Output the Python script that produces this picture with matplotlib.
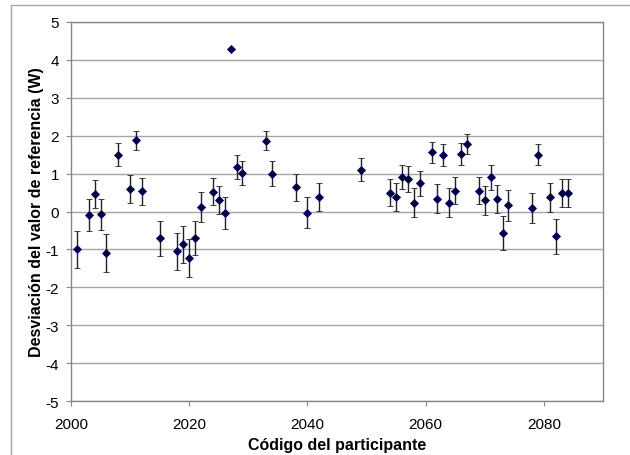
import matplotlib.pyplot as plt
from matplotlib.lines import Line2D

plt.rcParams['font.family'] = ['Liberation Sans', 'DejaVu Sans']
plt.rcParams['axes.unicode_minus'] = False

# participant codes, deviation from reference value (W) and uncertainty
codes = [2001, 2003, 2004, 2005, 2006, 2008, 2010, 2011, 2012, 2015,
         2018, 2019, 2020, 2021, 2022, 2024, 2025, 2026, 2027, 2028,
         2029, 2033, 2034, 2038, 2040, 2042, 2049, 2054, 2055, 2056,
         2057, 2058, 2059, 2061, 2062, 2063, 2064, 2065, 2066, 2067,
         2069, 2070, 2071, 2072, 2073, 2074, 2078, 2079, 2081, 2082,
         2083, 2084]
deviation = [-1.00, -0.10, 0.45, -0.07, -1.10, 1.50, 0.59, 1.88, 0.53, -0.71,
             -1.05, -0.87, -1.22, -0.70, 0.12, 0.52, 0.31, -0.04, 4.28, 1.17,
             1.02, 1.87, 1.00, 0.64, -0.03, 0.38, 1.10, 0.50, 0.38, 0.92,
             0.86, 0.23, 0.74, 1.56, 0.34, 1.48, 0.23, 0.55, 1.51, 1.79,
             0.55, 0.30, 0.91, 0.32, -0.56, 0.16, 0.10, 1.50, 0.38, -0.65,
             0.48, 0.49]
uncertainty = [0.48, 0.42, 0.37, 0.41, 0.50, 0.30, 0.36, 0.25, 0.36, 0.46,
               0.49, 0.48, 0.50, 0.46, 0.40, 0.36, 0.37, 0.42, 0.00, 0.31,
               0.31, 0.25, 0.32, 0.35, 0.41, 0.37, 0.30, 0.36, 0.37, 0.32,
               0.34, 0.38, 0.34, 0.27, 0.38, 0.29, 0.38, 0.36, 0.29, 0.26,
               0.36, 0.38, 0.33, 0.37, 0.45, 0.40, 0.40, 0.28, 0.38, 0.46,
               0.37, 0.37]

fig = plt.figure(figsize=(6.3, 4.56), dpi=100)
ax = fig.add_axes([71/630, 1 - 402/456, (603 - 71)/630, (402 - 23)/456])

ax.errorbar(codes, deviation, yerr=uncertainty, fmt='D', color='#000033',
            markeredgecolor='#000080', markeredgewidth=0.6, markersize=4.5,
            ecolor='#222222', elinewidth=1, capsize=2.5, capthick=1, zorder=3)

ax.set_xlim(2000, 2090)
ax.set_ylim(-5, 5)
ax.set_xticks([2000, 2020, 2040, 2060, 2080])
ax.set_yticks(range(-5, 6))
ax.yaxis.grid(True, color='#a6a6a6', linewidth=1)
ax.set_axisbelow(True)
for s in ax.spines.values():
    s.set_color('#888888')
    s.set_linewidth(1)
ax.tick_params(axis='both', length=3.5, color='#888888', labelsize=11)
ax.tick_params(axis='x', pad=8)
ax.tick_params(axis='y', pad=5)

ax.set_xlabel('Código del participante', fontsize=11.5, fontweight='bold', labelpad=4)
ax.set_ylabel('Desviación del valor de referencia (W)', fontsize=11.5,
              fontweight='bold', labelpad=1)

# chart area border (top and left edges)
fig.add_artist(Line2D([11/630, 11/630, 1], [0, 1 - 6/456, 1 - 6/456],
                      transform=fig.transFigure, color='#a6a6a6', linewidth=1))

plt.savefig('out.png', dpi=100)
